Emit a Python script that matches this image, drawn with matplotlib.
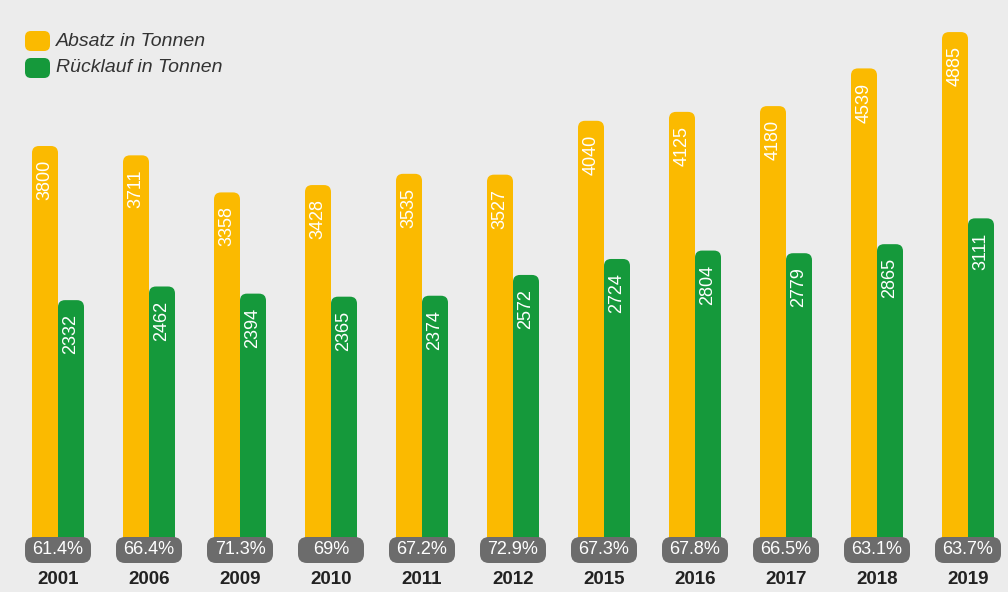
import matplotlib
matplotlib.use("Agg")
import matplotlib.pyplot as plt
from matplotlib.patches import FancyBboxPatch

years = ["2001", "2006", "2009", "2010", "2011", "2012", "2015", "2016", "2017", "2018", "2019"]
absatz = [3800, 3711, 3358, 3428, 3535, 3527, 4040, 4125, 4180, 4539, 4885]
ruecklauf = [2332, 2462, 2394, 2365, 2374, 2572, 2724, 2804, 2779, 2865, 3111]
quote = ["61.4%", "66.4%", "71.3%", "69%", "67.2%", "72.9%", "67.3%", "67.8%", "66.5%", "63.1%", "63.7%"]

YELLOW = "#fbba00"
GREEN = "#15993b"
GREY = "#6c6c6c"
BG = "#ececec"

W, H = 1008, 592
fig = plt.figure(figsize=(W / 100, H / 100), dpi=100)
fig.patch.set_facecolor(BG)
plt.rcParams["font.family"] = ["Liberation Sans", "DejaVu Sans"]

ax = fig.add_axes([0, 0, 1, 1])
ax.set_facecolor(BG)
for s in ax.spines.values():
    s.set_visible(False)
ax.set_xticks([])
ax.set_yticks([])

# scale: one group per 91 px, 0.105 px per tonne, baseline 47 px above bottom
gap_px = 91.0
ypx = 0.105
x0 = -58 / gap_px
y0 = -47 / ypx
ax.set_xlim(x0, x0 + W / gap_px)
ax.set_ylim(y0, y0 + H / ypx)
aspect = (1 / ypx) / (1 / gap_px)  # y units per x unit, per pixel

bw = 26 / gap_px
r_bar = 7 / gap_px


def rounded_bar(x, h, color):
    p = FancyBboxPatch((x, -60), bw, h + 60,
                       boxstyle=f"round,pad=0,rounding_size={r_bar}",
                       mutation_aspect=aspect, fc=color, ec="none", zorder=2)
    ax.add_patch(p)


for i, (a, r) in enumerate(zip(absatz, ruecklauf)):
    rounded_bar(i - bw, a, YELLOW)
    rounded_bar(i, r, GREEN)
    ax.text(i - bw / 2, a - 14 / ypx, str(a), rotation=90, ha="center", va="top",
            color="white", fontsize=13, zorder=3)
    ax.text(i + bw / 2, r - 14 / ypx, str(r), rotation=90, ha="center", va="top",
            color="white", fontsize=13, zorder=3)

    # percentage pill over the bar feet
    pw = 66 / gap_px
    pb = -18 / ypx
    ph = 26 / ypx
    pill = FancyBboxPatch((i - pw / 2, pb), pw, ph,
                          boxstyle=f"round,pad=0,rounding_size={9 / gap_px}",
                          mutation_aspect=aspect, fc=GREY, ec="none", zorder=4)
    ax.add_patch(pill)
    ax.text(i, pb + ph / 2, quote[i], ha="center", va="center", color="white",
            fontsize=13, zorder=5)
    ax.text(i, -35 / ypx, years[i], ha="center", va="center", color="#222222",
            fontsize=13.5, fontweight="bold", zorder=5)

# legend drawn in pixel coordinates
lg = fig.add_axes([0, 0, 1, 1], facecolor="none")
lg.set_xlim(0, W)
lg.set_ylim(H, 0)
lg.axis("off")
for k, (label, color) in enumerate([("Absatz in Tonnen", YELLOW),
                                     ("R\u00fccklauf in Tonnen", GREEN)]):
    yc = 41 + 27 * k
    lg.add_patch(FancyBboxPatch((25, yc - 10), 25, 20,
                                boxstyle="round,pad=0,rounding_size=6",
                                fc=color, ec="none"))
    lg.text(56, yc, label, ha="left", va="center", fontsize=14,
            style="italic", color="#333333")

fig.savefig("out.png", dpi=100, facecolor=BG)
